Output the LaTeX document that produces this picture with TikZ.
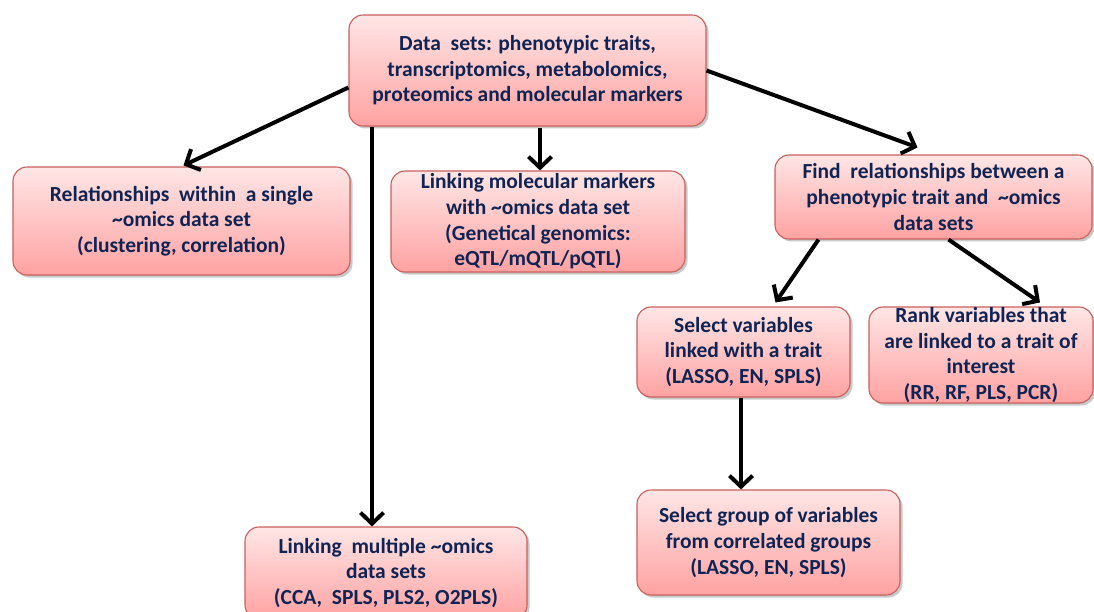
\documentclass[tikz,border=0pt]{standalone}
\usepackage{fontspec}
\setmainfont{Carlito}
\usetikzlibrary{arrows.meta,shadows,calc}

\definecolor{boxtext}{HTML}{102454}
\definecolor{boxedge}{HTML}{C8605C}
\definecolor{boxtop}{HTML}{FFE6E6}
\definecolor{boxbottom}{HTML}{FFA2A2}

\tikzset{
  stepbox/.style={
    rectangle, rounded corners=14pt, draw=boxedge, line width=1.1pt,
    top color=boxtop, bottom color=boxbottom,
    drop shadow={shadow xshift=2.5pt, shadow yshift=-2.5pt, opacity=0.35, fill=black!60},
    align=center, inner sep=0pt, text=boxtext,
    font=\fontsize{21.5pt}{25.6pt}\selectfont\bfseries
  },
  flow/.style={
    line width=4pt, draw=black,
    -{Straight Barb[length=11pt,width=23pt,line width=4pt]}
  }
}

\begin{document}
\begin{tikzpicture}[x=1pt,y=-1pt]
  \useasboundingbox[fill=white] (0,0) rectangle (1094,612);

  % boxes
  \node[stepbox, minimum width=357pt, minimum height=111pt] (top) at (527.5,70.5)
    {Data\ \ sets: phenotypic traits,\\transcriptomics, metabolomics,\\proteomics and molecular markers};
  \node[stepbox, minimum width=337pt, minimum height=108pt] (single) at (181.5,221)
    {Relationships\ \ within\ \ a single\\\textasciitilde omics data set\\(clustering, correlation)};
  \node[stepbox, minimum width=294pt, minimum height=101pt] (markers) at (538,221.5)
    {Linking molecular markers\\with \textasciitilde omics data set\\(Genetical genomics:\\eQTL/mQTL/pQTL)};
  \node[stepbox, minimum width=317pt, minimum height=84pt] (trait) at (933.5,197)
    {Find\ \ relationships between a\\phenotypic trait and\ \ \textasciitilde omics\\data sets};
  \node[stepbox, minimum width=213pt, minimum height=90pt] (select) at (743.5,352)
    {Select variables\\linked with a trait\\(LASSO, EN, SPLS)};
  \node[stepbox, minimum width=224pt, minimum height=96pt] (rank) at (981,355)
    {Rank variables that\\are linked to a trait of\\interest\\(RR, RF, PLS, PCR)};
  \node[stepbox, minimum width=263pt, minimum height=105pt] (group) at (768.5,542.5)
    {Select group of variables\\from correlated groups\\(LASSO, EN, SPLS)};
  \node[stepbox, minimum width=282pt, minimum height=92pt] (multi) at (386,573)
    {Linking\ \ multiple \textasciitilde omics\\data sets\\(CCA,\ \ SPLS, PLS2, O2PLS)};

  % connectors
  \draw[flow] ([yshift=-17pt]top.west) -- ([xshift=2pt,yshift=1pt]single.north);
  \draw[flow] ([xshift=-155.5pt]top.south) -- ([xshift=-155.5pt]top.south |- multi.north);
  \draw[flow] ([xshift=12.5pt,yshift=-1pt]top.south) -- ([xshift=12.5pt]top.south |- markers.north);
  \draw[flow] (top.east) -- ([xshift=-16pt,yshift=7pt]trait.north);
  \draw[flow] ([xshift=-115pt]trait.south) -- ([xshift=32pt,yshift=4pt]select.north);
  \draw[flow] ([xshift=15pt]trait.south) -- ([xshift=59pt,yshift=4pt]rank.north);
  \draw[flow] ([xshift=-2.5pt]select.south) -- ([xshift=-2.5pt]select.south |- group.north);
\end{tikzpicture}
\end{document}
